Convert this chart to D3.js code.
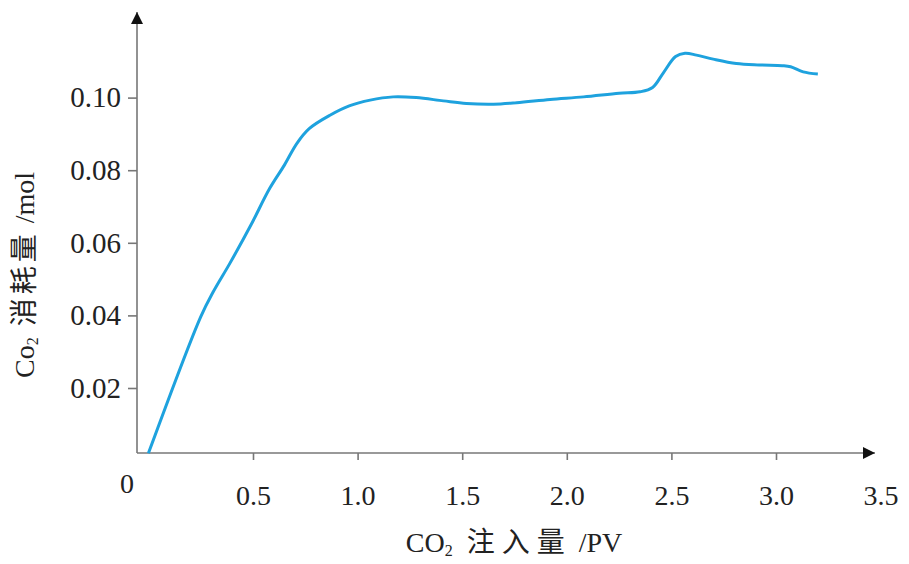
<!DOCTYPE html>
<html>
<head>
<meta charset="utf-8">
<script src="https://cdn.jsdelivr.net/npm/d3@7"></script>
<style>
  body { margin: 0; background: #fff; }
  text { font-family: "Liberation Serif", "Noto Sans CJK SC", serif; fill: #222; }
</style>
</head>
<body>
<div id="chart"></div>
<script>
// CO2 injected (PV) vs CO2 consumed (mol)
let injectPV = [0.00, 0.25, 0.31, 0.39, 0.49, 0.58, 0.65, 0.71, 0.77, 0.87, 0.96, 1.06,
    1.17, 1.28, 1.41, 1.52, 1.65, 1.76, 1.92, 2.08, 2.25, 2.35, 2.41, 2.46, 2.52, 2.565, 2.62,
    2.70, 2.81, 2.92, 3.03, 3.07, 3.13, 3.20];
let consumedMol = [0.0020, 0.0396, 0.0465, 0.0544, 0.0649, 0.0750, 0.0814, 0.0874,
    0.0915, 0.0952, 0.0977, 0.0993, 0.1002, 0.1000, 0.0991, 0.0984, 0.0982, 0.0986, 0.0995, 0.1002,
    0.1012, 0.1016, 0.1028, 0.1067, 0.1113, 0.1122, 0.1117, 0.1106, 0.1094, 0.1090, 0.1088, 0.1085,
    0.1071, 0.1065];

let xTicks = [0.5, 1.0, 1.5, 2.0, 2.5, 3.0, 3.5];
let yTicks = [0.02, 0.04, 0.06, 0.08, 0.10];

let svgWidth = 909;
let svgHeight = 564;

// axis corner sits a bit left/below of the (0,0) point
let axisLeft = 137, axisBottom = 453, axisRight = 875, axisTop = 12;

let svg = d3.select('#chart')
    .append('svg')
    .attr('width', svgWidth)
    .attr('height', svgHeight);

// 0 -> 148.4px, 0.5 PV -> 104.6px
let xScale = d3.scaleLinear()
    .domain([0, 3.5])
    .range([148.4, 148.4 + 7 * 104.6]);

// 0 -> 460.6px, 0.02 mol -> 72.6px
let yScale = d3.scaleLinear()
    .domain([0, 0.10])
    .range([460.6, 460.6 - 5 * 72.6]);

let axisColor = '#777';

// arrow heads
let defs = svg.append('defs');
defs.append('marker')
    .attr('id', 'arrow')
    .attr('viewBox', '0 0 10 10')
    .attr('refX', 10)
    .attr('refY', 5)
    .attr('markerWidth', 17)
    .attr('markerHeight', 12)
    .attr('markerUnits', 'userSpaceOnUse')
    .attr('orient', 'auto')
    .append('path')
    .attr('d', 'M0,0 L10,5 L0,10 z')
    .attr('fill', '#111');

// axis lines
svg.append('line')
    .attr('x1', axisLeft).attr('y1', axisBottom)
    .attr('x2', axisRight).attr('y2', axisBottom)
    .attr('stroke', axisColor).attr('stroke-width', 1.6)
    .attr('marker-end', 'url(#arrow)');

svg.append('line')
    .attr('x1', axisLeft).attr('y1', axisBottom)
    .attr('x2', axisLeft).attr('y2', axisTop)
    .attr('stroke', axisColor).attr('stroke-width', 1.6)
    .attr('marker-end', 'url(#arrow)');

// x axis ticks
let xAxis = svg.append('g')
    .attr('transform', `translate(0, ${axisBottom})`)
    .call(d3.axisBottom(xScale)
        .tickValues(xTicks)
        .tickSize(7)
        .tickPadding(25)
        .tickFormat(d3.format('.1f')));
xAxis.select('.domain').remove();
xAxis.selectAll('.tick line').attr('stroke', axisColor).attr('stroke-width', 1.6);
xAxis.selectAll('.tick').filter(d => d === 3.5).select('line').remove();
xAxis.selectAll('.tick text')
    .attr('font-size', 28)
    .attr('font-family', '"Liberation Serif", serif')
    .attr('fill', '#222');

// y axis ticks
let yAxis = svg.append('g')
    .attr('transform', `translate(${axisLeft}, 0)`)
    .call(d3.axisLeft(yScale)
        .tickValues(yTicks)
        .tickSize(9)
        .tickPadding(7)
        .tickFormat(d3.format('.2f')));
yAxis.select('.domain').remove();
yAxis.selectAll('.tick line').attr('stroke', axisColor).attr('stroke-width', 1.6);
yAxis.selectAll('.tick text')
    .attr('font-size', 29)
    .attr('font-family', '"Liberation Serif", serif')
    .attr('fill', '#222');

// origin label
svg.append('text')
    .attr('x', 127)
    .attr('y', 493)
    .attr('text-anchor', 'middle')
    .attr('font-size', 28)
    .text('0');

// the curve
let points = injectPV.map((x, i) => [x, consumedMol[i]]);
let line = d3.line()
    .x(d => xScale(d[0]))
    .y(d => yScale(d[1]))
    .curve(d3.curveCatmullRom.alpha(0.5));

svg.append('path')
    .datum(points)
    .attr('d', line)
    .attr('fill', 'none')
    .attr('stroke', '#1ea2de')
    .attr('stroke-width', 3)
    .attr('stroke-linejoin', 'round');

// axis titles
let xTitle = svg.append('text')
    .attr('x', 514)
    .attr('y', 552)
    .attr('text-anchor', 'middle')
    .attr('font-size', 28);
xTitle.append('tspan').text('CO');
xTitle.append('tspan').attr('font-size', 16).attr('dy', 4).text('2');
xTitle.append('tspan').attr('dy', -4).attr('letter-spacing', 7).text(' 注入量');
xTitle.append('tspan').text('  /PV');

let yTitle = svg.append('text')
    .attr('transform', 'translate(34, 275) rotate(-90)')
    .attr('text-anchor', 'middle')
    .attr('font-size', 28);
yTitle.append('tspan').text('Co');
yTitle.append('tspan').attr('font-size', 16).attr('dy', 4).text('2');
yTitle.append('tspan').attr('dy', -4).attr('letter-spacing', 4).text(' 消耗量');
yTitle.append('tspan').text('  /mol');
</script>
</body>
</html>
